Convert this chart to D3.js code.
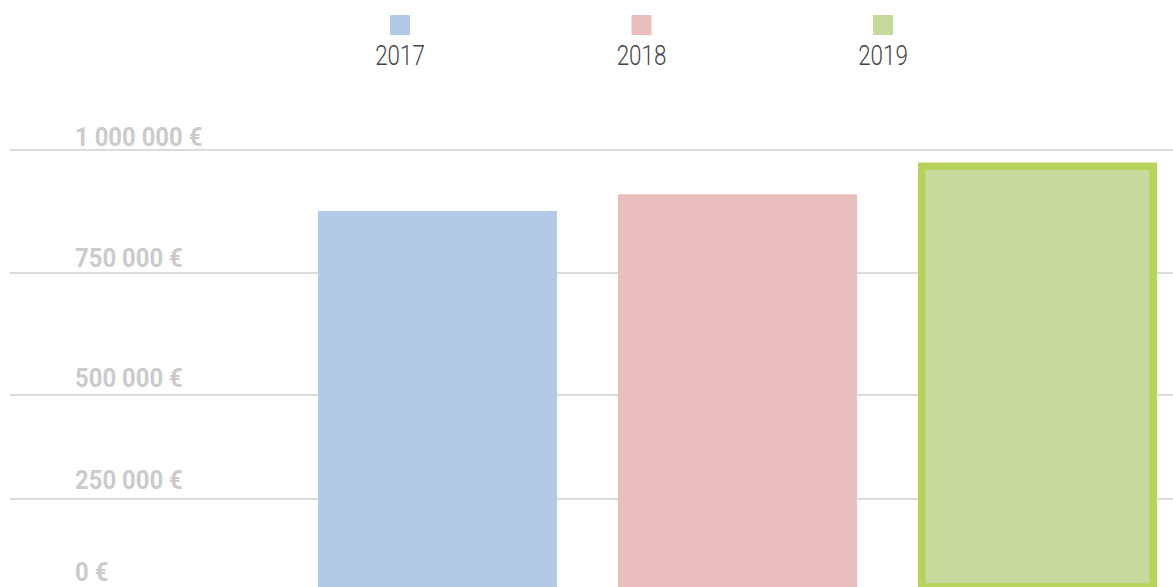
<!DOCTYPE html>
<html>
<head>
<meta charset="UTF-8">
<title>Chiffre d'affaires</title>
<script src="https://d3js.org/d3.v7.min.js"></script>
<style>
  body { margin: 0; background: #fff; }
  svg { display: block; }
  .tick-label { font-family: Roboto, sans-serif; font-weight: 700; fill: #cbcbcb; }
  .legend-label { font-family: Roboto, sans-serif; font-weight: 300; fill: #444; }
</style>
</head>
<body>
<div id="chart"></div>
<script>
// data
var years = ["2017", "2018", "2019"];
var values = [876000, 910000, 967000];
var colors = ["#b3c9e6", "#e8bfbc", "#c8d99e"];
var yTicks = [0, 250000, 500000, 750000, 1000000];
var yTickLabels = ["0 €", "250 000 €", "500 000 €", "750 000 €", "1 000 000 €"];
var highlight = "2019";

var W = 1173, H = 587;

var svg = d3.select("#chart").append("svg")
    .attr("width", W)
    .attr("height", H);

// the gridlines in the picture are not evenly spaced, so a polylinear scale
var y = d3.scaleLinear()
    .domain(yTicks)
    .range([587, 499, 395, 273, 150]);

var x = d3.scaleBand()
    .domain(years)
    .range([318, 1157])
    .paddingInner(0.2033)
    .paddingOuter(0);

// gridlines
svg.append("g").selectAll("line")
    .data(yTicks.slice(1))
    .enter().append("line")
    .attr("x1", 10)
    .attr("x2", W)
    .attr("y1", function(d) { return y(d); })
    .attr("y2", function(d) { return y(d); })
    .attr("stroke", "#cfcfcf")
    .attr("stroke-width", 1.5);

// tick labels, sitting a little above their line
function labelGap(d) {
    if (d === 0) return 6;
    return 4 + (1000000 - d) / 1000000 * 8;
}

svg.append("g").selectAll("text")
    .data(yTicks)
    .enter().append("text")
    .attr("class", "tick-label")
    .attr("transform", function(d) { return "translate(75," + (y(d) - labelGap(d)) + ") scale(0.955,1)"; })
    .style("font-size", "25px")
    .text(function(d, i) { return yTickLabels[i]; });

// bars
var sw = 7.5;
svg.append("g").selectAll("rect")
    .data(years)
    .enter().append("rect")
    .attr("x", function(d) { return d === highlight ? x(d) + sw / 2 : x(d); })
    .attr("width", function(d) { return d === highlight ? x.bandwidth() - sw : x.bandwidth(); })
    .attr("y", function(d, i) { return y(values[i]); })
    .attr("height", function(d, i) { return y(0) - y(values[i]); })
    .attr("fill", function(d, i) { return colors[i]; })
    .attr("stroke", function(d) { return d === highlight ? "#b8d25c" : "none"; })
    .attr("stroke-width", sw);

// legend
var legendX = d3.scalePoint()
    .domain(years)
    .range([400, 883]);

var legend = svg.append("g").selectAll("g")
    .data(years)
    .enter().append("g")
    .attr("transform", function(d) { return "translate(" + legendX(d) + ",0)"; });

legend.append("rect")
    .attr("x", -10)
    .attr("y", 15)
    .attr("width", 20)
    .attr("height", 20)
    .attr("fill", function(d, i) { return colors[i]; });

legend.append("text")
    .attr("class", "legend-label")
    .attr("text-anchor", "middle")
    .attr("transform", "translate(0,65) scale(0.83,1)")
    .style("font-size", "27px")
    .text(function(d) { return d; });
</script>
</body>
</html>
